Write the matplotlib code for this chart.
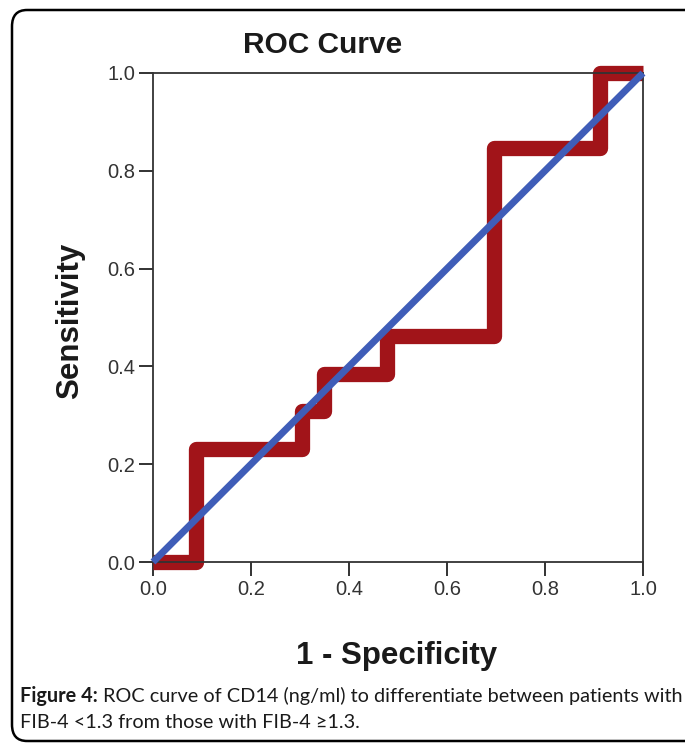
import matplotlib
matplotlib.use("Agg")
import matplotlib.pyplot as plt
from matplotlib.patches import FancyBboxPatch

# Data
fpr = [0.0, 0.087, 0.087, 0.304, 0.304, 0.348, 0.348, 0.478, 0.478, 0.696, 0.696, 0.913, 0.913, 1.0]
tpr = [0.0, 0.0, 0.231, 0.231, 0.308, 0.308, 0.385, 0.385, 0.462, 0.462, 0.846, 0.846, 1.0, 1.0]
ref_x = [0.0, 1.0]
ref_y = [0.0, 1.0]
ticks = [0.0, 0.2, 0.4, 0.6, 0.8, 1.0]
tick_labels = ["0.0", "0.2", "0.4", "0.6", "0.8", "1.0"]

W, H = 685, 744
fig = plt.figure(figsize=(W / 100, H / 100), dpi=100)
fig.patch.set_facecolor("white")

# rounded border (right side runs off the picture, as in the reference)
border = FancyBboxPatch((12 / W, 3 / H), 690 / W, 731 / H,
                        boxstyle="round,pad=0,rounding_size=0.022",
                        transform=fig.transFigure, fill=False,
                        edgecolor="black", linewidth=1.8)
fig.patches.append(border)

ax = fig.add_axes([153 / W, 1 - 562 / H, 490 / W, 489 / H])
ax.plot(fpr, tpr, color="#A11419", linewidth=11, solid_joinstyle="round",
        solid_capstyle="butt", clip_on=False, zorder=2)
ax.plot(ref_x, ref_y, color="#3F5DB8", linewidth=5, solid_capstyle="butt",
        clip_on=False, zorder=3)

ax.set_xlim(0, 1)
ax.set_ylim(0, 1)
ax.set_xticks(ticks)
ax.set_xticklabels(tick_labels)
ax.set_yticks(ticks)
ax.set_yticklabels(tick_labels)
ax.tick_params(direction="out", length=10, width=1.3, labelsize=14.5,
               color="#222222", labelcolor="#333333", pad=3)
for s in ax.spines.values():
    s.set_linewidth(1.3)
    s.set_color("#333333")
for lab in ax.get_xticklabels() + ax.get_yticklabels():
    lab.set_family(["Liberation Sans", "DejaVu Sans"])

fig.text(323 / W, 1 - 45 / H, "ROC Curve", ha="center", va="center",
         fontsize=21.5, fontweight="bold",
         family=["Liberation Sans", "DejaVu Sans"], color="#1a1a1a")
fig.text(70 / W, 1 - 321 / H, "Sensitivity", ha="center", va="center",
         rotation=90, fontsize=22.5, fontweight="bold",
         family=["Liberation Sans", "DejaVu Sans"], color="#1a1a1a")
fig.text(397 / W, 1 - 656 / H, "1 - Specificity", ha="center", va="center",
         fontsize=22.5, fontweight="bold",
         family=["Liberation Sans", "DejaVu Sans"], color="#1a1a1a")

cap_fam = ["Lato", "DejaVu Sans"]
cap_size = 14.3
t1 = fig.text(20 / W, 1 - 696 / H, "Figure 4:", ha="left", va="center",
              fontsize=cap_size, fontweight="bold", family=cap_fam, color="#1a1a1a")
fig.canvas.draw()
bb = t1.get_window_extent()
fig.text((bb.x1 + 5) / W, 1 - 696 / H,
         "ROC curve of CD14 (ng/ml) to differentiate between patients with",
         ha="left", va="center", fontsize=cap_size, family=cap_fam, color="#1a1a1a")
fig.text(20 / W, 1 - 722 / H, "FIB-4 <1.3 from those with FIB-4 \u22651.3.",
         ha="left", va="center", fontsize=cap_size, family=cap_fam, color="#1a1a1a")

fig.savefig("out.png", dpi=100)
